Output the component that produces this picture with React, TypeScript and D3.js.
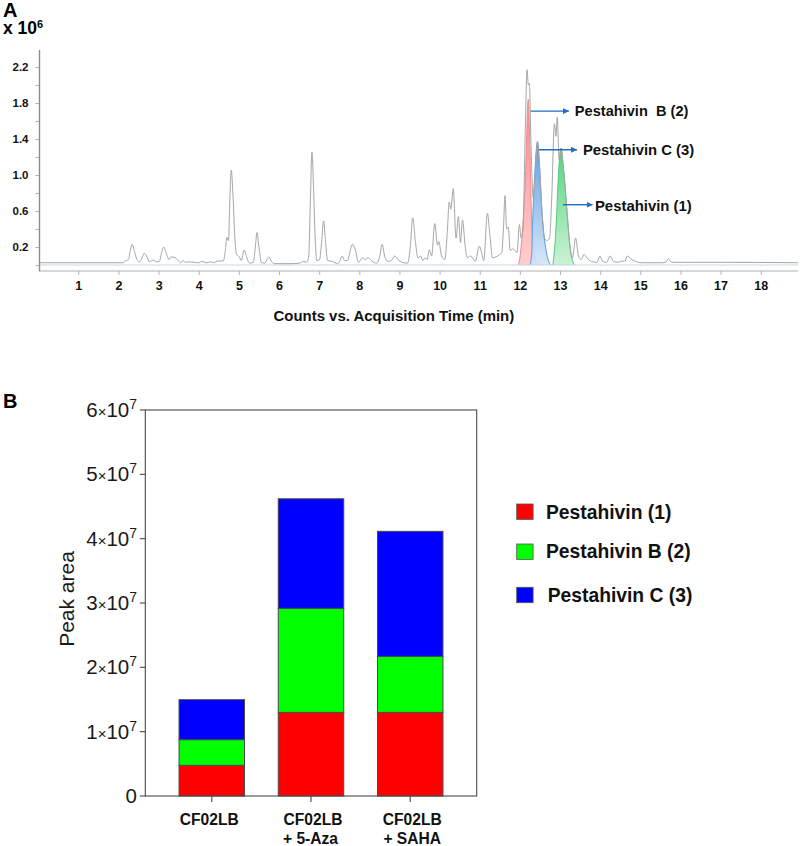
import React, { useEffect, useRef } from 'react';
import * as d3 from 'd3';

// Panel A: total ion chromatogram, [minutes, counts x 10^6]
const ticTrace: [number, number][] = [
  [0.03, .025], [2.12, .025], [2.14, .035], [2.2, .05], [2.25, .06], [2.29, .15], [2.34, .23], [2.4, .15], [2.46, .06], [2.52, .035],
  [2.58, .07], [2.64, .13], [2.7, .1], [2.77, .035], [2.86, .055], [2.95, .035], [3.02, .04], [3.07, .13], [3.13, .2], [3.19, .13],
  [3.26, .06], [3.31, .09], [3.41, .08], [3.49, .05], [3.55, .025], [3.61, .05], [3.67, .03], [3.75, .035], [3.9, .03], [4.0, .025],
  [4.07, .04], [4.2, .025], [4.29, .035], [4.37, .025], [4.48, .045], [4.61, .045], [4.66, .15], [4.7, .31], [4.74, .27], [4.78, .8],
  [4.81, 1.055], [4.85, .8], [4.9, .3], [4.94, .12], [5.01, .09], [5.06, .05], [5.13, .165], [5.2, .08], [5.26, .02], [5.36, .03],
  [5.41, .2], [5.45, .36], [5.5, .2], [5.56, .03], [5.64, .02], [5.7, .06], [5.75, .09], [5.81, .04], [5.88, .015], [6.3, .015],
  [6.5, .02], [6.62, .04], [6.69, .03], [6.74, .1], [6.78, .7], [6.82, 1.255], [6.86, .85], [6.9, .3], [6.94, .05], [7.01, .06],
  [7.06, .25], [7.11, .49], [7.16, .25], [7.21, .05], [7.33, .04], [7.46, .015], [7.52, .05], [7.57, .1], [7.64, .05], [7.7, .05],
  [7.83, .23], [7.9, .17], [7.98, .03], [8.08, .08], [8.15, .06], [8.22, .08], [8.32, .04], [8.43, .02], [8.51, .1], [8.57, .23],
  [8.63, .1], [8.71, .04], [8.8, .05], [8.88, .1], [8.96, .06], [9.06, .03], [9.2, .02], [9.27, .2], [9.33, .525], [9.4, .25],
  [9.46, .08], [9.53, .1], [9.58, .05], [9.64, .08], [9.69, .06], [9.74, .17], [9.8, .1], [9.88, .46], [9.95, .22], [9.98, .26],
  [10.05, .1], [10.13, .06], [10.19, .35], [10.24, .7], [10.28, .62], [10.34, .85], [10.41, .3], [10.47, .54], [10.52, .25], [10.57, .5],
  [10.64, .2], [10.69, .08], [10.77, .1], [10.89, .04], [10.99, .21], [11.04, .15], [11.1, .05], [11.19, .575], [11.26, .3], [11.32, .08],
  [11.4, .09], [11.55, .14], [11.59, .4], [11.63, .77], [11.67, .4], [11.71, .42], [11.76, .16], [11.83, .18], [11.93, .14], [11.99, .45],
  [12.03, .3], [12.08, .4], [12.13, 1.4], [12.18, 2.17], [12.21, 2.0], [12.235, 2.02], [12.28, 1.3], [12.33, .75], [12.38, 1.0], [12.44, 1.37],
  [12.49, 1.1], [12.55, .6], [12.61, .3], [12.68, .27], [12.74, .3], [12.79, .7], [12.86, 1.57], [12.9, 1.43], [12.93, 1.64], [12.98, 1.17],
  [13.03, 1.3], [13.08, 1.1], [13.13, .85], [13.19, .5], [13.25, .2], [13.31, .08], [13.39, .3], [13.46, .1], [13.53, .06], [13.6, .12], [13.67, .08],
  [13.78, .04], [13.92, .03], [13.995, .1], [14.06, .04], [14.16, .03], [14.25, .1], [14.33, .04], [14.46, .03], [14.54, .045], [14.61, .04],
  [14.68, .1], [14.76, .07], [14.88, .04], [15.02, .025], [15.55, .025], [15.63, .03], [15.7, .07], [15.78, .03], [16.0, .03], [16.2, .03],
  [17, .03], [18.93, .025],
];

// Extracted ion peaks filled under the trace
const eicPeak2: [number, number][] = [
  [11.96, 0], [12.0, .08], [12.05, .3], [12.09, .55], [12.14, 1.0], [12.21, 1.84], [12.25, 1.3], [12.29, .55], [12.33, .22], [12.38, .07], [12.46, .01], [12.5, 0],
];
const eicPeak3: [number, number][] = [
  [12.25, 0], [12.29, .1], [12.32, .5], [12.37, 1.0], [12.44, 1.37], [12.49, 1.1], [12.55, .6], [12.61, .3], [12.67, .12], [12.73, .03], [12.77, 0],
];
const eicPeak1: [number, number][] = [
  [12.82, 0], [12.86, .15], [12.91, .5], [12.95, .9], [13.02, 1.3], [13.08, 1.1], [13.13, .85], [13.19, .5], [13.25, .2], [13.31, .05], [13.36, 0],
];

const timeTicks = d3.range(1, 19);
const countTicks = [0, .2, .4, .6, .8, 1.0, 1.2, 1.4, 1.6, 1.8, 2.0, 2.2];
const countLabels = [.2, .6, 1.0, 1.4, 1.8, 2.2];

// Panel B: stacked peak areas
const conditions = ['CF02LB', 'CF02LB + 5-Aza', 'CF02LB + SAHA'];
const conditionLines = [['CF02LB'], ['CF02LB', '+ 5-Aza'], ['CF02LB', '+ SAHA']];
const pestahivin1 = [0.477e7, 1.3e7, 1.3e7];
const pestahivinB2 = [0.399e7, 1.617e7, 0.87e7];
const pestahivinC3 = [0.621e7, 1.703e7, 1.944e7];
const areaTicks = [0, 1, 2, 3, 4, 5, 6];
const legendNames = ['Pestahivin (1)', 'Pestahivin B (2)', 'Pestahivin C (3)'];
const barColors = ['#ff0000', '#00ff00', '#0000ff'];

const FONT = '"Liberation Sans", Arial, sans-serif';

export default function App() {
  const ref = useRef<SVGSVGElement>(null);

  useEffect(() => {
    if (!ref.current) return;
    const svg = d3.select(ref.current);
    svg.selectAll('*').remove();
    svg.style('font-family', FONT);

    drawChromatogram(svg);
    drawBars(svg);
  }, []);

  return (
    <svg
      ref={ref}
      width={803}
      height={846}
      style={{ position: 'absolute', left: 0, top: 0, background: '#fff' }}
    />
  );
}

function drawChromatogram(svg: any) {
  const x = d3.scaleLinear().domain([0, 18]).range([38.2, 760.7]);
  const y = d3.scaleLinear().domain([0, 2.2]).range([265, 67]);
  const axisY = 271;

  const defs = svg.append('defs');
  const fills = [
    { id: 'fillRed', top: '#ff8080', bottom: '#ffc8c8', stroke: '#f28a8a', data: eicPeak2 },
    { id: 'fillBlue', top: '#4f94e0', bottom: '#d3e4f7', stroke: '#5f9be0', data: eicPeak3 },
    { id: 'fillGreen', top: '#3fd06f', bottom: '#c6f0d2', stroke: '#52c97a', data: eicPeak1 },
  ];
  fills.forEach((f) => {
    const g = defs.append('linearGradient').attr('id', f.id).attr('x1', 0).attr('x2', 0).attr('y1', 0).attr('y2', 1);
    g.append('stop').attr('offset', '0%').attr('stop-color', f.top);
    g.append('stop').attr('offset', '100%').attr('stop-color', f.bottom);
  });

  // Title letters
  svg.append('text').attr('x', 3).attr('y', 17).style('font-size', '20px').style('font-weight', 'bold').text('A');
  const unit = svg.append('text').attr('x', 3).attr('y', 34).style('font-size', '17.5px').style('font-weight', 'bold');
  unit.append('tspan').text('x 10');
  unit.append('tspan').attr('dy', -6).style('font-size', '11px').text('6');

  // Filled peaks
  const area = d3.area<[number, number]>()
    .x((d) => x(d[0]))
    .y0(y(0))
    .y1((d) => y(d[1]))
    .curve(d3.curveMonotoneX);
  const edge = d3.line<[number, number]>()
    .x((d) => x(d[0]))
    .y((d) => y(d[1]))
    .curve(d3.curveMonotoneX);

  fills.forEach((f) => {
    svg.append('path').attr('d', area(f.data)).attr('fill', `url(#${f.id})`).attr('opacity', 0.9);
    svg.append('path').attr('d', edge(f.data)).attr('fill', 'none').attr('stroke', f.stroke).attr('stroke-width', 1);
  });

  // Baseline under the trace
  svg.append('line')
    .attr('x1', x(0) + 1).attr('x2', 798)
    .attr('y1', y(0)).attr('y2', y(0))
    .attr('stroke', '#c2d7e6').attr('stroke-width', 1.2);

  // Trace
  svg.append('path')
    .attr('d', edge(ticTrace))
    .attr('fill', 'none')
    .attr('stroke', '#a6a6a6')
    .attr('stroke-width', 1);

  // Y axis
  const yAxis = svg.append('g')
    .attr('transform', 'translate(39.5,0)')
    .call(d3.axisLeft(y).tickValues(countTicks).tickSize(4).tickPadding(7)
      .tickFormat((d: any) => (countLabels.some((v) => Math.abs(v - d) < 1e-6) ? d3.format('.1f')(d) : '')));
  yAxis.select('.domain').remove();
  yAxis.selectAll('line').attr('stroke', '#b5b5b5');
  yAxis.selectAll('text').style('font-size', '11.5px').style('font-weight', 'bold').style('font-family', FONT).attr('fill', '#111');
  svg.append('line').attr('x1', 39.5).attr('x2', 39.5).attr('y1', 50).attr('y2', axisY + 0.5).attr('stroke', '#8c8c8c').attr('stroke-width', 1.4);

  // X axis
  const xAxis = svg.append('g')
    .attr('transform', `translate(0,${axisY})`)
    .call(d3.axisBottom(x).tickValues(timeTicks).tickSize(4).tickPadding(6).tickFormat(d3.format('d') as any));
  xAxis.select('.domain').remove();
  xAxis.selectAll('line').attr('stroke', '#b5b5b5');
  xAxis.selectAll('text').style('font-size', '12.5px').style('font-weight', 'bold').style('font-family', FONT).attr('fill', '#111');
  svg.append('line').attr('x1', 39.5).attr('x2', 798).attr('y1', axisY).attr('y2', axisY).attr('stroke', '#b0b0b0').attr('stroke-width', 1.2);

  svg.append('text')
    .attr('x', 273.5).attr('y', 321)
    .style('font-size', '14.95px').style('font-weight', 'bold').attr('fill', '#111')
    .text('Counts vs. Acquisition Time (min)');

  // Peak annotations: start time, end time, height, label time
  const callouts = [
    { from: 12.27, to: 13.22, v: 1.71, labelAt: 13.37, dy: 5, size: 14.6, text: 'Pestahivin  B (2)' },
    { from: 12.47, to: 13.42, v: 1.28, labelAt: 13.57, dy: 5.3, size: 14.85, text: 'Pestahivin C (3)' },
    { from: 13.07, to: 13.81, v: 0.67, labelAt: 13.87, dy: 6.3, size: 14.9, text: 'Pestahivin (1)' },
  ];
  defs.append('marker')
    .attr('id', 'arrow').attr('markerUnits', 'userSpaceOnUse')
    .attr('markerWidth', 7).attr('markerHeight', 7).attr('refX', 6).attr('refY', 3.5).attr('orient', 'auto')
    .append('path').attr('d', 'M0,0.5L6.5,3.5L0,6.5Z').attr('fill', '#1f6fc4');
  callouts.forEach((c) => {
    svg.append('line')
      .attr('x1', x(c.from)).attr('x2', x(c.to))
      .attr('y1', y(c.v)).attr('y2', y(c.v))
      .attr('stroke', '#1f6fc4').attr('stroke-width', 1.4)
      .attr('marker-end', 'url(#arrow)');
    svg.append('text')
      .attr('x', x(c.labelAt)).attr('y', y(c.v) + c.dy)
      .style('white-space', 'pre')
      .style('font-size', `${c.size}px`).style('font-weight', 'bold').attr('fill', '#111')
      .text(c.text);
  });
}

function drawBars(svg: any) {
  const left = 145.3;
  const right = 476.7;
  const top = 410;
  const bottom = 796;

  const x = d3.scaleBand().domain(conditions).range([left, right]).padding(0.34);
  const y = d3.scaleLinear().domain([0, 6e7]).range([bottom, top]);

  svg.append('text').attr('x', 3).attr('y', 408).style('font-size', '20px').style('font-weight', 'bold').text('B');

  const rows = conditions.map((c, i) => ({ c, a: pestahivin1[i], b: pestahivinB2[i], d: pestahivinC3[i] }));
  const stacked = d3.stack<any>().keys(['a', 'b', 'd'])(rows);

  stacked.forEach((layer, i) => {
    svg.append('g').selectAll('rect')
      .data(layer)
      .enter()
      .append('rect')
      .attr('x', (d: any) => x(d.data.c)!)
      .attr('width', x.bandwidth())
      .attr('y', (d: any) => y(d[1]))
      .attr('height', (d: any) => y(d[0]) - y(d[1]))
      .attr('fill', barColors[i])
      .attr('stroke', '#4a4a4a')
      .attr('stroke-width', 1);
  });

  // Frame
  svg.append('rect')
    .attr('x', left).attr('y', top)
    .attr('width', right - left).attr('height', bottom - top)
    .attr('fill', 'none').attr('stroke', '#4a4a4a').attr('stroke-width', 1.1);

  // Y ticks, hand-set labels for the 1x10^7 form
  const yG = svg.append('g');
  areaTicks.forEach((t) => {
    const py = y(t * 1e7);
    yG.append('line').attr('x1', left - 5.5).attr('x2', left).attr('y1', py).attr('y2', py).attr('stroke', '#4a4a4a').attr('stroke-width', 1.1);
    const label = yG.append('text')
      .attr('x', 137).attr('y', py + 7)
      .attr('text-anchor', 'end')
      .style('font-size', '20.5px').attr('fill', '#1a1a1a');
    if (t === 0) {
      label.text('0');
    } else {
      label.append('tspan').text(`${t}`);
      label.append('tspan').style('font-size', '15px').text('×');
      label.append('tspan').text('10');
      label.append('tspan').attr('dy', -8).style('font-size', '14px').text('7');
    }
  });

  svg.append('text')
    .attr('transform', 'translate(74,599) rotate(-90)')
    .attr('text-anchor', 'middle')
    .style('font-size', '21px').attr('fill', '#1a1a1a')
    .text('Peak area');

  // Category ticks and labels
  conditions.forEach((c, i) => {
    const cx = x(c)! + x.bandwidth() / 2;
    svg.append('line').attr('x1', cx).attr('x2', cx).attr('y1', bottom).attr('y2', bottom + 6).attr('stroke', '#4a4a4a').attr('stroke-width', 1.1);
    conditionLines[i].forEach((line, j) => {
      svg.append('text')
        .attr('x', cx + (i === 0 ? -2.5 : j === 1 && i === 1 ? -0.5 : 2))
        .attr('y', 825 + j * 19)
        .attr('text-anchor', 'middle')
        .style('font-size', '15.6px').style('font-weight', 'bold').attr('fill', '#111')
        .text(line);
    });
  });

  // Legend
  const legendY = [504, 544, 587.3];
  const legendTextX = [546, 546, 547.7];
  const legendBase = [518.7, 558, 602];
  legendNames.forEach((name, i) => {
    svg.append('rect')
      .attr('x', 516.7).attr('y', legendY[i])
      .attr('width', 16.4).attr('height', 15.4)
      .attr('fill', barColors[i]).attr('stroke', '#555').attr('stroke-width', 0.8);
    svg.append('text')
      .attr('x', legendTextX[i]).attr('y', legendBase[i])
      .style('font-size', '19.3px').style('font-weight', 'bold').attr('fill', '#111')
      .text(name);
  });
}
